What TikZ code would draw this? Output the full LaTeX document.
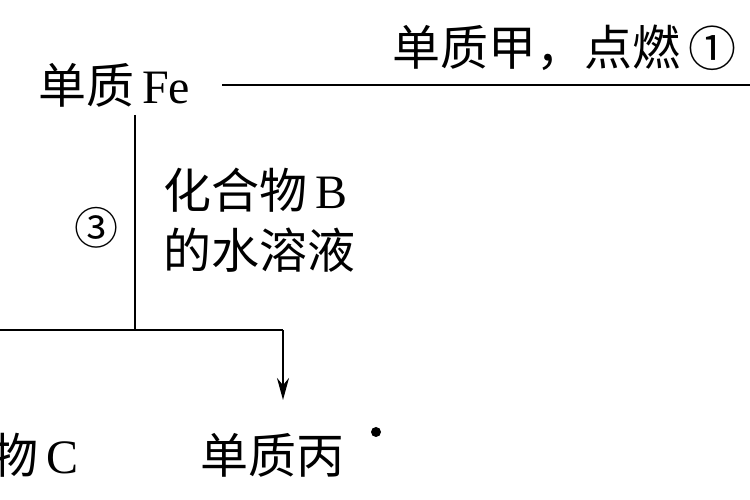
\documentclass[tikz,border=0pt]{standalone}
\usepackage{fontspec}
\newfontfamily\cjk{Noto Sans CJK SC}
\setmainfont{Liberation Serif}
\usetikzlibrary{arrows.meta}
\begin{document}
\begin{tikzpicture}[x=1pt,y=1pt,
  lbl/.style={font=\cjk\fontsize{48}{54}\selectfont, inner sep=0pt, anchor=west},
  ln/.style={line width=2.4pt}]
\useasboundingbox (0,0) rectangle (750,500);
\clip (0,0) rectangle (750,500);
\fill[white] (0,0) rectangle (750,500);
\node[lbl] (fe) at (38,415) {单质\,{\rmfamily Fe}};
\node[lbl] (jia) at (392,452) {单质甲，点燃};
\node[lbl] (c1) at (jia.east) {\,①};
\coordinate (r) at (750,415);
\draw[ln] (222,415) -- (r);
\coordinate (top) at (135,385);
\coordinate (mid) at (135,170);
\coordinate (left) at (0,170);
\coordinate (corner) at (283,170);
\coordinate (tip) at (283,100);
\draw[ln] (top) -- (mid);
\draw[ln] (left) -- (corner);
\draw[ln,-{Stealth[length=22pt,width=12pt]}] (corner) -- (tip);
\node[font=\cjk\fontsize{44}{50}\selectfont, inner sep=0pt] (c3) at (96,272) {③};
\node[lbl] (b1) at (163,310) {化合物\,{\rmfamily B}};
\node[lbl] (b2) at (163,250) {的水溶液};
\node[lbl] (c) at (-10,45) {物\,{\rmfamily C}};
\node[lbl] (bing) at (200,45) {单质丙};
\fill (376,68) circle (5pt);
\end{tikzpicture}
\end{document}
